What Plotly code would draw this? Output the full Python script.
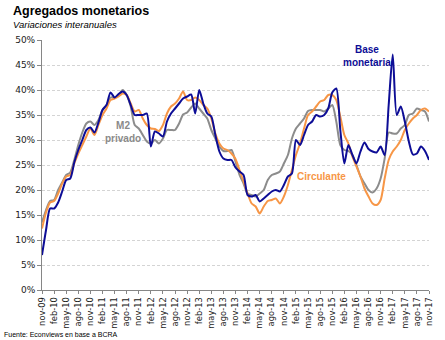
import plotly.graph_objects as go

# Month categories nov-09 .. nov-17
month_names = ["ene", "feb", "mar", "abr", "may", "jun", "jul", "ago", "sep", "oct", "nov", "dic"]
categories = []
m, y = 10, 9
while True:
    categories.append(f"{month_names[m]}-{y:02d}")
    if m == 10 and y == 17:
        break
    m += 1
    if m == 12:
        m, y = 0, y + 1

tick_labels = categories[::3]

base_monetaria = [
    7.0, 12.0, 16.3, 16.3, 17.5, 19.7, 22.0, 22.3, 25.5, 28.0, 30.0, 32.0,
    32.5, 31.5, 33.5, 36.0, 37.0, 39.5, 38.5, 39.2, 39.7, 39.0, 37.0, 35.0,
    35.0, 35.0, 35.3, 28.7, 31.7, 31.3, 30.7, 33.7, 35.3, 36.3, 37.3, 38.3,
    38.7, 39.1, 35.3, 40.0, 37.3, 35.3, 34.7, 31.0, 27.7, 26.3, 26.0, 26.0,
    24.5, 23.7, 23.0, 19.0, 18.7, 19.0, 17.7, 18.3, 19.0, 19.7, 20.0, 19.7,
    21.0, 22.7, 23.3, 30.0, 29.0, 31.0, 33.0, 33.7, 35.0, 34.7, 35.0, 36.3,
    39.5, 40.3, 32.0, 25.3, 29.0, 27.0, 25.3, 27.7, 29.5, 28.2, 27.7, 27.5,
    28.7, 27.0, 37.0, 47.1, 35.0, 36.7, 33.7, 29.7, 27.1, 27.3, 28.7, 27.8,
    26.0,
]

circulante = [
    12.3, 15.5, 17.5, 17.8, 19.3, 21.3, 22.7, 23.0, 25.3, 27.3, 29.0, 30.7,
    32.3, 31.0, 33.0, 35.0, 36.3, 38.0, 38.3, 38.7, 39.3, 39.0, 37.3, 35.7,
    36.0, 34.3, 33.0, 32.3, 32.2, 31.8, 33.0, 35.3, 36.7, 37.3, 38.3, 39.7,
    38.0, 38.0, 38.5, 38.0, 37.0, 36.3, 34.3, 31.3, 29.3, 28.3, 28.0, 27.3,
    26.2, 24.0, 21.7, 19.3, 17.3, 16.7, 15.3, 16.7, 17.8, 18.0, 18.3, 17.3,
    18.7, 21.0, 24.0, 27.0, 29.3, 32.3, 35.0, 35.7, 36.7, 37.7, 38.0, 39.0,
    39.0, 38.0, 34.7, 31.0, 29.3, 26.7, 24.7, 22.7, 20.3, 18.7, 17.3, 17.0,
    18.0, 22.3, 26.0, 27.7, 28.7, 30.0, 32.0, 33.3, 34.3, 35.0, 36.0, 36.3,
    35.7,
]

m2_privado = [
    13.5, 16.0, 17.8, 18.0, 20.0, 21.5, 23.0, 23.5, 26.0, 29.0, 31.5, 33.3,
    33.7, 33.0, 34.0, 36.0, 37.0, 38.5, 38.5, 39.0, 40.0, 39.0, 36.7, 33.0,
    32.3, 31.0, 29.7, 29.3, 30.0, 29.3, 30.3, 32.0, 32.0, 32.0, 33.3, 35.1,
    35.5, 36.5, 37.3, 36.3, 35.3, 34.3, 32.0, 30.3, 28.7, 27.8, 27.8, 28.0,
    25.7, 23.0, 21.3, 19.3, 19.0, 18.7, 19.3, 20.0, 22.0, 23.0, 23.3, 23.7,
    25.3, 27.0, 30.3, 32.3, 33.3, 34.3, 35.8, 36.0, 36.0, 36.0, 35.7, 36.3,
    37.0, 33.7, 29.0, 28.0, 27.8, 27.0, 25.0, 22.7, 21.3, 20.0, 19.5, 20.3,
    22.3, 26.3, 31.5, 31.3, 31.3, 32.3, 33.0, 35.0, 35.3, 36.3, 36.0, 35.7,
    33.7,
]

BLUE = "#0d0d96"
ORANGE = "#f79646"
GRAY = "#8c8c8c"

fig = go.Figure()
for name, vals, col in [("M2 privado", m2_privado, GRAY),
                        ("Circulante", circulante, ORANGE),
                        ("Base monetaria", base_monetaria, BLUE)]:
    fig.add_trace(go.Scatter(
        x=categories, y=vals, mode="lines", name=name,
        line=dict(color=col, width=2, shape="spline", smoothing=0.7),
        hoverinfo="skip",
    ))

L, R, T, B = 42, 16, 40, 50
W, H = 445, 340
pw, ph = W - L - R, H - T - B

def px(xp):
    return (xp - L) / pw

def py(yp):
    return (H - B - yp) / ph

fig.update_layout(
    width=W, height=H,
    margin=dict(l=L, r=R, t=T, b=B, pad=0),
    paper_bgcolor="white", plot_bgcolor="white",
    showlegend=False,
    font=dict(family="DejaVu Sans", size=9, color="#222222"),
    xaxis=dict(
        type="category", range=[0, len(categories) - 1],
        tickmode="array", tickvals=tick_labels, ticktext=tick_labels,
        tickangle=-90, tickfont=dict(family="DejaVu Sans", size=8.3, color="#222222"),
        showgrid=False, showline=True, linecolor="#868686", linewidth=1,
        ticks="outside", ticklen=3, tickcolor="#868686",
        zeroline=False, fixedrange=True,
    ),
    yaxis=dict(
        range=[0, 50], dtick=5, ticksuffix="%",
        tickfont=dict(family="DejaVu Sans", size=9, color="#222222"),
        showgrid=True, gridcolor="#d4d4d4", gridwidth=1, griddash="3px,2px",
        showline=True, linecolor="#868686", linewidth=1,
        ticks="outside", ticklen=4, tickcolor="#868686",
        zeroline=False, fixedrange=True,
    ),
    annotations=[
        dict(text="<b>Agregados monetarios</b>", xref="paper", yref="paper",
             x=px(11), y=py(11), xanchor="left", yanchor="middle", showarrow=False,
             font=dict(family="Liberation Sans", size=12.5, color="#000000")),
        dict(text="<i>Variaciones interanuales</i>", xref="paper", yref="paper",
             x=px(11), y=py(25), xanchor="left", yanchor="middle", showarrow=False,
             font=dict(family="Liberation Sans", size=9.5, color="#000000")),
        dict(text="Fuente: Econviews en base a BCRA", xref="paper", yref="paper",
             x=px(2), y=py(334), xanchor="left", yanchor="middle", showarrow=False,
             font=dict(family="Liberation Sans", size=7, color="#000000")),
        dict(text="<b>Base<br>monetaria</b>", xref="paper", yref="paper",
             x=px(367), y=py(56.5), xanchor="center", yanchor="middle", showarrow=False,
             font=dict(family="Liberation Sans", size=10, color=BLUE)),
        dict(text="<b>M2<br>privado</b>", xref="paper", yref="paper",
             x=px(123), y=py(132), xanchor="center", yanchor="middle", showarrow=False,
             font=dict(family="Liberation Sans", size=10, color="#8a8a8a")),
        dict(text="<b>Circulante</b>", xref="paper", yref="paper",
             x=px(295), y=py(176), xanchor="left", yanchor="middle", showarrow=False,
             font=dict(family="Liberation Sans", size=10, color=ORANGE)),
    ],
)

fig.write_html("out.html")
